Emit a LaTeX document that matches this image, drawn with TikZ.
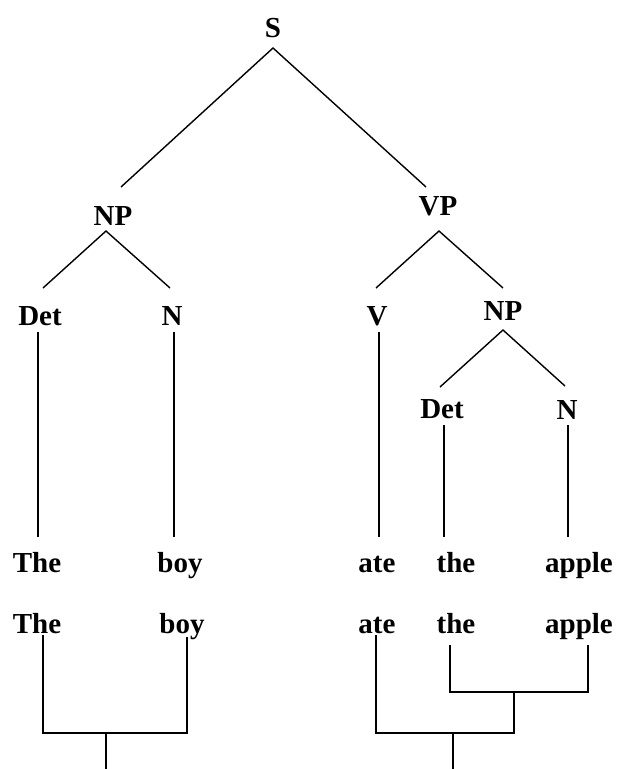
\documentclass[tikz,border=0pt]{standalone}
\usepackage{fontspec}
\setmainfont{Liberation Serif}
\begin{document}
\begin{tikzpicture}[x=1pt,y=-1pt,
  lab/.style={font=\fontsize{29}{29}\selectfont\bfseries, inner sep=0pt, anchor=base},
  edge/.style={line width=1.4pt, line join=miter}]
\useasboundingbox (0,0) rectangle (621,769);
\fill[white] (0,0) rectangle (621,769);
% tree labels
\node[lab] (S)    at (273,37)  {S};
\node[lab] (NP1)  at (113,225) {NP};
\node[lab] (VP)   at (438,215) {VP};
\node[lab] (Det1) at (40,325)  {Det};
\node[lab] (N1)   at (172,325) {N};
\node[lab] (V)    at (377,325) {V};
\node[lab] (NP2)  at (503,320) {NP};
\node[lab] (Det2) at (442,418) {Det};
\node[lab] (N2)   at (567,419) {N};
% words, first row
\node[lab] (w1a) at (37,572)  {The};
\node[lab] (w2a) at (180,572) {boy};
\node[lab] (w3a) at (377,572) {ate};
\node[lab] (w4a) at (456,572) {the};
\node[lab] (w5a) at (579,572) {apple};
% words, second row
\node[lab] (w1b) at (37,633)  {The};
\node[lab] (w2b) at (182,633) {boy};
\node[lab] (w3b) at (377,633) {ate};
\node[lab] (w4b) at (456,633) {the};
\node[lab] (w5b) at (579,633) {apple};
% apex and end points of the branches
\coordinate (S-ap)   at (273,48);
\coordinate (S-l)    at (121,187);
\coordinate (S-r)    at (426,187);
\coordinate (NP1-ap) at (106,231);
\coordinate (NP1-l)  at (43,288);
\coordinate (NP1-r)  at (170,288);
\coordinate (VP-ap)  at (439,231);
\coordinate (VP-l)   at (376,288);
\coordinate (VP-r)   at (503,288);
\coordinate (NP2-ap) at (503,330);
\coordinate (NP2-l)  at (440,387);
\coordinate (NP2-r)  at (565,386);
\draw[edge] (S-l) -- (S-ap) -- (S-r);
\draw[edge] (NP1-l) -- (NP1-ap) -- (NP1-r);
\draw[edge] (VP-l) -- (VP-ap) -- (VP-r);
\draw[edge] (NP2-l) -- (NP2-ap) -- (NP2-r);
% vertical lines to the words
\coordinate (Det1-d) at (38,332);  \coordinate (w1a-u) at (38,537);
\coordinate (N1-d)   at (174,332); \coordinate (w2a-u) at (174,537);
\coordinate (V-d)    at (379,332); \coordinate (w3a-u) at (379,537);
\coordinate (Det2-d) at (444,425); \coordinate (w4a-u) at (444,537);
\coordinate (N2-d)   at (568,425); \coordinate (w5a-u) at (568,537);
\draw[edge] (Det1-d) -- (w1a-u);
\draw[edge] (N1-d) -- (w2a-u);
\draw[edge] (V-d) -- (w3a-u);
\draw[edge] (Det2-d) -- (w4a-u);
\draw[edge] (N2-d) -- (w5a-u);
% bracket structure below
\coordinate (w1b-d) at (43,635);
\coordinate (w2b-d) at (187,637);
\coordinate (L-j)   at (106,733);
\coordinate (L-end) at (106,769);
\draw[edge] (w1b-d) |- (L-j) -| (w2b-d);
\draw[edge] (L-j) -- (L-end);
\coordinate (w3b-d) at (376,635);
\coordinate (w4b-d) at (450,645);
\coordinate (w5b-d) at (588,645);
\coordinate (R-j1)  at (514,692);
\coordinate (R-j2)  at (453,733);
\coordinate (R-end) at (453,769);
\draw[edge] (w4b-d) |- (R-j1) -| (w5b-d);
\draw[edge] (R-j1) -- (514,733) -- (R-j2);
\draw[edge] (w3b-d) |- (R-j2);
\draw[edge] (R-j2) -- (R-end);
\end{tikzpicture}
\end{document}
